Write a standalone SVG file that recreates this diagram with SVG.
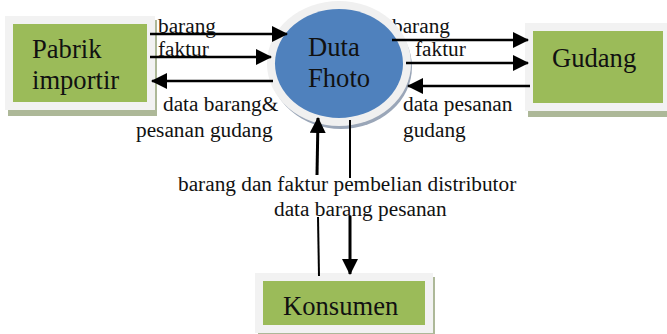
<svg xmlns="http://www.w3.org/2000/svg" width="667" height="334" viewBox="0 0 667 334">
<style>
text{font-family:"Liberation Serif","Times New Roman",serif;fill:#111}
.l{font-size:21.3px}
.n{font-size:26.6px}
.sh{fill:#adb898}
.o{fill:#f2f2f2}
.g{fill:#9bbb59}
.c{stroke:#000;fill:none}
</style>
<defs>
<marker id="a" markerUnits="userSpaceOnUse" markerWidth="16" markerHeight="16" refX="15" refY="8" orient="auto"><path d="M0 0L16 8L0 16Z" fill="#000"/></marker>
</defs>
<rect width="667" height="334" fill="#fff"/>
<g id="labels-top">
<text class="l" x="392" y="33">barang</text>
</g>
<g id="duta-fhoto">
<ellipse cx="341" cy="67" rx="71" ry="62" fill="#9aa6b8"/>
<ellipse cx="339" cy="63.5" rx="72" ry="62.5" fill="#f0f0f0"/>
<ellipse cx="339" cy="63.5" rx="64" ry="54.5" fill="#4f81bd"/>
<text class="n" x="308" y="56">Duta</text>
<text class="n" x="308" y="87">Fhoto</text>
</g>
<g id="pabrik-importir">
<rect class="sh" x="8" y="20" width="149" height="96"/>
<rect class="o" x="5" y="16" width="150" height="94"/>
<rect class="g" x="13" y="24" width="134" height="78"/>
<text class="n" x="32" y="58">Pabrik</text>
<text class="n" x="32" y="89">importir</text>
</g>
<g id="gudang">
<rect class="sh" x="528" y="27" width="139" height="90"/>
<rect class="o" x="525" y="23" width="142" height="88"/>
<rect class="g" x="533" y="31" width="130" height="72"/>
<text class="n" x="552" y="67">Gudang</text>
</g>
<g id="konsumen">
<rect class="sh" x="258" y="277" width="177" height="57"/>
<rect class="o" x="255" y="273" width="178" height="60"/>
<rect class="g" x="263" y="281" width="162" height="44"/>
<text class="n" x="283" y="315">Konsumen</text>
</g>
<g id="connectors">
<path class="c" stroke-width="2.5" marker-end="url(#a)" d="M150 34H287"/>
<path class="c" stroke-width="2.5" marker-end="url(#a)" d="M150 57H271"/>
<path class="c" stroke-width="2.5" marker-end="url(#a)" d="M273 81H152"/>
<path class="c" stroke-width="2.5" marker-end="url(#a)" d="M392 40H528"/>
<path class="c" stroke-width="2.5" marker-end="url(#a)" d="M406 63H528"/>
<path class="c" stroke-width="2.5" marker-end="url(#a)" d="M530 86H408"/>
<path class="c" stroke-width="2" d="M319 276L318 217"/>
<path class="c" stroke-width="3" marker-end="url(#a)" d="M317 175L318 118"/>
<path class="c" stroke-width="2" d="M350 120V178"/>
<path class="c" stroke-width="3" marker-end="url(#a)" d="M350 216V274"/>
</g>
<g id="labels">
<text class="l" x="158" y="33">barang</text>
<text class="l" x="158" y="56">faktur</text>
<text class="l" x="163" y="111">data barang&amp;</text>
<text class="l" x="136" y="137">pesanan gudang</text>
<text class="l" x="415" y="56">faktur</text>
<text class="l" x="403" y="111">data pesanan</text>
<text class="l" x="403" y="137">gudang</text>
<text class="l" x="178" y="191">barang dan faktur pembelian distributor</text>
<text class="l" x="274" y="216">data barang pesanan</text>
</g>
</svg>
